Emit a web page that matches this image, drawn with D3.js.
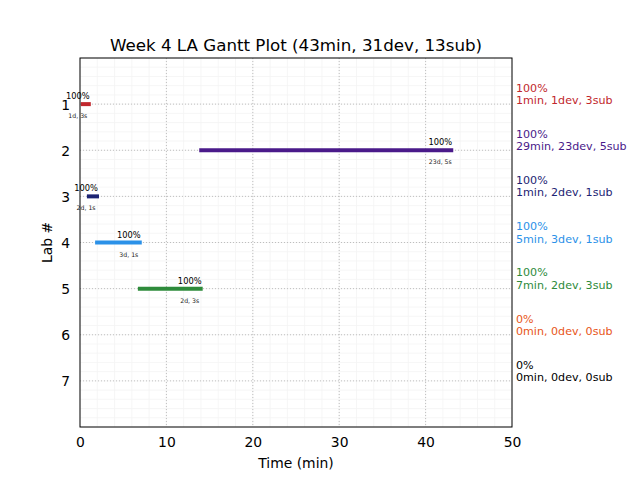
<!DOCTYPE html>
<html>
<head>
<meta charset="utf-8">
<script src="https://cdn.jsdelivr.net/npm/d3@7"></script>
<style>
  body { margin: 0; background: #fff; }
  text { font-family: "DejaVu Sans", sans-serif; }
</style>
</head>
<body>
<div id="chart"></div>
<script>
// data
var labs = [1, 2, 3, 4, 5, 6, 7];
var starts = [0.1, 13.8, 0.8, 1.75, 6.7, null, null];
var ends = [1.25, 43.2, 2.2, 7.15, 14.2, null, null];
var percents = ["100%", "100%", "100%", "100%", "100%", "0%", "0%"];
var barDetails = ["1d, 3s", "23d, 5s", "2d, 1s", "3d, 1s", "2d, 3s", "", ""];
var sideLabels = ["1min, 1dev, 3sub", "29min, 23dev, 5sub", "1min, 2dev, 1sub",
    "5min, 3dev, 1sub", "7min, 2dev, 3sub", "0min, 0dev, 0sub", "0min, 0dev, 0sub"];
var colors = ["#c1272d", "#4a1a8a", "#1d2473", "#2b91e8", "#2e8b3b", "#e8561a", "#000000"];
var xTicks = [0, 10, 20, 30, 40, 50];
var title = "Week 4 LA Gantt Plot (43min, 31dev, 13sub)";

var svgWidth = 640, svgHeight = 480;
var margin = { top: 58, right: 128, bottom: 53, left: 80 };
var width = svgWidth - margin.left - margin.right;
var height = svgHeight - margin.top - margin.bottom;

var svg = d3.select("#chart").append("svg")
    .attr("width", svgWidth)
    .attr("height", svgHeight);

var chartGroup = svg.append("g")
    .attr("transform", `translate(${margin.left}, ${margin.top})`);

var xScale = d3.scaleLinear().domain([0, 50]).range([0, width]);
var yScale = d3.scaleLinear().domain([0, 8]).range([0, height]);

// minor grid
chartGroup.append("g")
    .selectAll("line")
    .data(d3.range(0, 50.01, 2))
    .enter().append("line")
    .attr("x1", d => xScale(d)).attr("x2", d => xScale(d))
    .attr("y1", 0).attr("y2", height)
    .attr("stroke", "#f4f4f4").attr("stroke-width", 0.8);
chartGroup.append("g")
    .selectAll("line")
    .data(d3.range(0, 8.01, 0.2))
    .enter().append("line")
    .attr("y1", d => yScale(d)).attr("y2", d => yScale(d))
    .attr("x1", 0).attr("x2", width)
    .attr("stroke", "#f4f4f4").attr("stroke-width", 0.8);

// major grid
chartGroup.append("g")
    .selectAll("line")
    .data(xTicks.slice(1, -1))
    .enter().append("line")
    .attr("x1", d => xScale(d)).attr("x2", d => xScale(d))
    .attr("y1", 0).attr("y2", height)
    .attr("stroke", "#b0b0b0").attr("stroke-width", 0.8)
    .attr("stroke-dasharray", "1,2");
chartGroup.append("g")
    .selectAll("line")
    .data(labs)
    .enter().append("line")
    .attr("y1", d => yScale(d)).attr("y2", d => yScale(d))
    .attr("x1", 0).attr("x2", width)
    .attr("stroke", "#b0b0b0").attr("stroke-width", 0.8)
    .attr("stroke-dasharray", "1,2");

// axes (no tick marks)
var bottomAxis = d3.axisBottom(xScale).tickValues(xTicks).tickSize(0).tickPadding(10);
var leftAxis = d3.axisLeft(yScale).tickValues(labs).tickSize(0).tickPadding(10);

var xAxisG = chartGroup.append("g")
    .attr("transform", `translate(0, ${height})`)
    .call(bottomAxis);
var yAxisG = chartGroup.append("g").call(leftAxis);
[xAxisG, yAxisG].forEach(function(g) {
    g.select(".domain").remove();
    g.selectAll("text").attr("font-size", "13.9px").attr("fill", "#000")
        .attr("font-family", "DejaVu Sans");
});
yAxisG.selectAll("text").attr("dy", "0.36em");

// bars
var rows = labs.map(function(l, i) {
    return { lab: l, start: starts[i], end: ends[i], pct: percents[i],
        detail: barDetails[i], side: sideLabels[i], color: colors[i] };
});
var barRows = rows.filter(d => d.start !== null);

chartGroup.selectAll(".bar")
    .data(barRows)
    .enter().append("line")
    .attr("class", "bar")
    .attr("x1", d => xScale(d.start)).attr("x2", d => xScale(d.end))
    .attr("y1", d => yScale(d.lab)).attr("y2", d => yScale(d.lab))
    .attr("stroke", d => d.color).attr("stroke-width", 4);

chartGroup.selectAll(".pct")
    .data(barRows)
    .enter().append("text")
    .attr("x", d => xScale(d.end - 1.5))
    .attr("y", d => yScale(d.lab) - 5)
    .attr("text-anchor", "middle")
    .attr("font-size", "8.3px")
    .text(d => d.pct);

chartGroup.selectAll(".detail")
    .data(barRows)
    .enter().append("text")
    .attr("x", d => xScale(d.end - 1.5))
    .attr("y", d => yScale(d.lab) + 14)
    .attr("text-anchor", "middle")
    .attr("font-size", "6.2px")
    .attr("fill", "#222")
    .text(d => d.detail);

// side labels
var side = chartGroup.selectAll(".side")
    .data(rows)
    .enter().append("text")
    .attr("x", width + 4)
    .attr("y", d => yScale(d.lab))
    .attr("font-size", "11.1px")
    .attr("fill", d => d.color);
side.append("tspan").attr("x", width + 4).attr("dy", "-1.1em").text(d => d.pct);
side.append("tspan").attr("x", width + 4).attr("dy", "1.1em").text(d => d.side);

// frame
chartGroup.append("rect")
    .attr("width", width).attr("height", height)
    .attr("fill", "none").attr("stroke", "#000").attr("stroke-width", 1);

// title and axis labels
svg.append("text")
    .attr("x", margin.left + width / 2).attr("y", 51)
    .attr("text-anchor", "middle").attr("font-size", "16.7px")
    .text(title);

svg.append("text")
    .attr("x", margin.left + width / 2).attr("y", 468)
    .attr("text-anchor", "middle").attr("font-size", "13.9px")
    .text("Time (min)");

svg.append("text")
    .attr("transform", `translate(52, ${margin.top + height / 2}) rotate(-90)`)
    .attr("text-anchor", "middle").attr("font-size", "13.9px")
    .text("Lab #");
</script>
</body>
</html>
